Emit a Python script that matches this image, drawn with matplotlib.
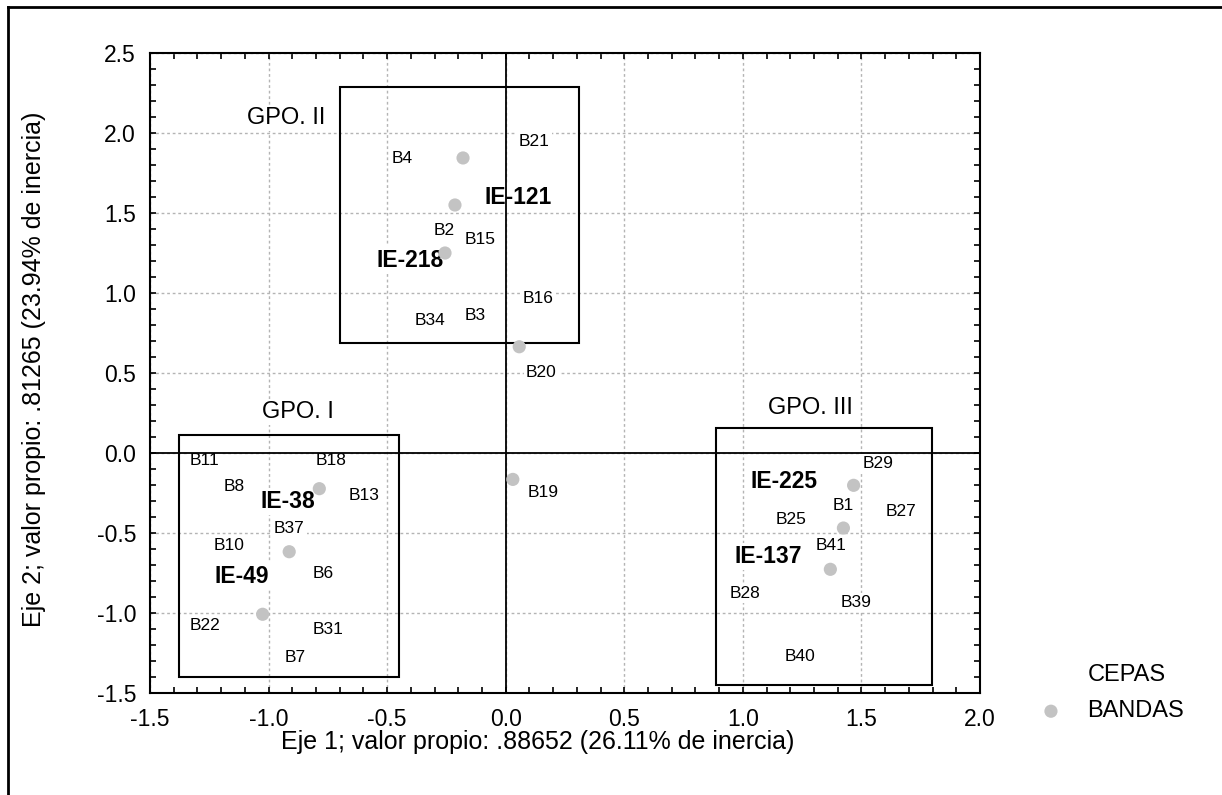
import matplotlib
matplotlib.use('Agg')
import matplotlib.pyplot as plt
from matplotlib.lines import Line2D
from matplotlib.patches import Rectangle
from matplotlib.ticker import MultipleLocator, FormatStrFormatter

plt.rcParams['font.family'] = ['Liberation Sans', 'DejaVu Sans']

# Coordenadas de las bandas (puntos grises)
band_x = [-0.180, -0.214, -0.256, 0.057, 0.030, -0.786, -0.913, -1.025, 1.467, 1.424, 1.369]
band_y = [1.844, 1.550, 1.250, 0.664, -0.165, -0.223, -0.617, -1.008, -0.202, -0.469, -0.727]

# Etiquetas de bandas
band_labels = ['B4', 'B21', 'B2', 'B15', 'B16', 'B34', 'B3', 'B20', 'B19',
               'B11', 'B18', 'B8', 'B13', 'B37', 'B10', 'B6', 'B22', 'B31', 'B7',
               'B29', 'B1', 'B27', 'B25', 'B41', 'B28', 'B39', 'B40']
band_lx = [-0.480, 0.056, -0.302, -0.172, 0.070, -0.385, -0.172, 0.086, 0.091,
           -1.331, -0.801, -1.188, -0.664, -0.977, -1.233, -0.816, -1.331, -0.816, -0.931,
           1.504, 1.377, 1.602, 1.140, 1.307, 0.943, 1.413, 1.175]
band_ly = [1.838, 1.946, 1.389, 1.336, 0.963, 0.831, 0.859, 0.504, -0.248,
           -0.044, -0.044, -0.211, -0.267, -0.471, -0.581, -0.756, -1.075, -1.102, -1.277,
           -0.064, -0.325, -0.363, -0.413, -0.581, -0.877, -0.936, -1.273]

# Etiquetas de cepas
strain_labels = ['IE-121', 'IE-218', 'IE-38', 'IE-49', 'IE-225', 'IE-137']
strain_lx = [-0.090, -0.544, -1.036, -1.230, 1.033, 0.964]
strain_ly = [1.598, 1.206, -0.304, -0.769, -0.175, -0.648]

# Grupos
group_names = ['GPO. I', 'GPO. II', 'GPO. III']
group_lx = [-1.029, -1.090, 1.107]
group_ly = [0.258, 2.092, 0.279]
group_x0 = [-1.378, -0.699, 0.887]
group_x1 = [-0.449, 0.310, 1.796]
group_y0 = [-1.398, 0.686, -1.450]
group_y1 = [0.114, 2.289, 0.154]

W, H = 1222, 795
fig = plt.figure(figsize=(W / 100, H / 100), dpi=100)
ax = fig.add_axes([150 / W, (H - 693) / H, 830 / W, 640 / H])

ax.set_xlim(-1.5, 2.0)
ax.set_ylim(-1.5, 2.5)
ax.xaxis.set_major_locator(MultipleLocator(0.5))
ax.yaxis.set_major_locator(MultipleLocator(0.5))
ax.xaxis.set_minor_locator(MultipleLocator(0.1))
ax.yaxis.set_minor_locator(MultipleLocator(0.1))
ax.tick_params(which='both', direction='in', top=True, right=True, length=4, width=1.2)
ax.tick_params(axis='x', labelsize=16.5, pad=11)
ax.tick_params(axis='y', labelsize=16.5, pad=10)
ax.xaxis.set_major_formatter(FormatStrFormatter('%.1f'))
ax.yaxis.set_major_formatter(FormatStrFormatter('%.1f'))
for s in ax.spines.values():
    s.set_linewidth(1.5)

ax.set_axisbelow(True)
ax.grid(True, which='major', color='#b4b4b4', linestyle=(0, (2, 2)), linewidth=1.0)

ax.axhline(0, color='black', linewidth=1.3, zorder=4)
ax.axvline(0, color='black', linewidth=1.3, zorder=4)

box = dict(facecolor='white', edgecolor='none', pad=1.5)

for x0, x1, y0, y1 in zip(group_x0, group_x1, group_y0, group_y1):
    ax.add_patch(Rectangle((x0, y0), x1 - x0, y1 - y0, fill=False,
                           edgecolor='black', linewidth=1.5, zorder=4))
for name, x, y in zip(group_names, group_lx, group_ly):
    ax.text(x, y, name, fontsize=17, ha='left', va='center', bbox=box, zorder=3)

for lab, x, y in zip(band_labels, band_lx, band_ly):
    ax.text(x, y, lab, fontsize=12.5, ha='left', va='center', bbox=box, zorder=3)

for lab, x, y in zip(strain_labels, strain_lx, strain_ly):
    ax.text(x, y, lab, fontsize=16.5, fontweight='bold', ha='left', va='center',
            bbox=box, zorder=3)

pts = ax.scatter(band_x, band_y, s=90, color='#c3c3c3', edgecolors='none', zorder=5)

ax.set_xlabel('Eje 1; valor propio: .88652 (26.11% de inercia)', fontsize=18)
ax.set_ylabel('Eje 2; valor propio: .81265 (23.94% de inercia)', fontsize=18)
ax.xaxis.set_label_coords(0.467, -0.058)
ax.yaxis.set_label_coords(-0.125, 0.505)

handles = [Line2D([], [], linestyle='none'), pts]
fig.legend(handles, ['CEPAS', 'BANDAS'], loc='upper left',
           bbox_to_anchor=(1012 / W, 1 - 643 / H), frameon=False, fontsize=17,
           handletextpad=0.8, labelspacing=0.6, handlelength=1.5)

# marco exterior
fig.add_artist(Line2D([8 / W, 8 / W], [0, 1 - 7 / H], transform=fig.transFigure,
                      color='black', linewidth=2))
fig.add_artist(Line2D([8 / W, 1], [1 - 7 / H, 1 - 7 / H], transform=fig.transFigure,
                      color='black', linewidth=2))

fig.savefig('out.png', dpi=100)
